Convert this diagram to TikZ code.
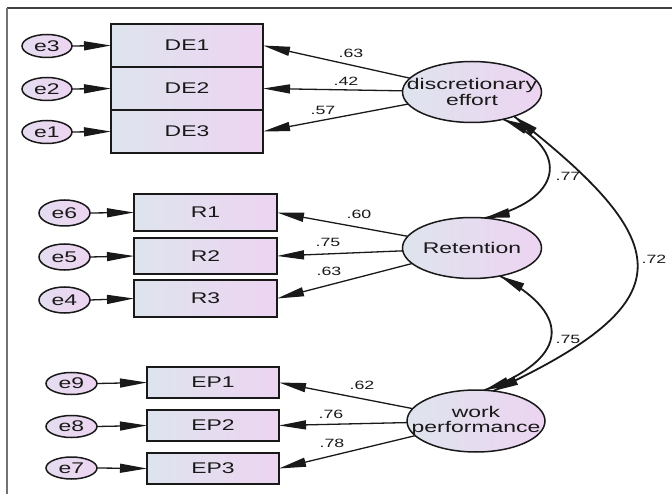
\documentclass[tikz,border=0pt]{standalone}
\usepackage{fontspec}
\newfontfamily\amos{Liberation Sans}[FakeStretch=1.48]
\usetikzlibrary{shapes.geometric,arrows.meta}
\definecolor{fillA}{RGB}{222,228,238}
\definecolor{fillB}{RGB}{237,212,241}
\definecolor{inkcol}{RGB}{25,25,25}
\tikzset{
  every node/.style={text=inkcol},
  obs/.style={rectangle, draw=inkcol, line width=1.7pt, inner sep=0pt, outer sep=0pt,
    left color=fillA, right color=fillB, font=\amos\fontsize{15.5}{16}\selectfont},
  err/.style={ellipse, draw=inkcol, line width=1.5pt, inner sep=0pt, outer sep=0pt,
    left color=fillA!55!fillB, right color=fillB, font=\amos\fontsize{15.5}{16}\selectfont},
  lat/.style={ellipse, draw=inkcol, line width=1.5pt, inner sep=0pt, outer sep=0pt,
    left color=fillA, right color=fillB},
  lattext/.style={align=center, inner sep=0pt, font=\amos\fontsize{15.5}{15.5}\selectfont},
  arr/.style={-{Triangle[length=27pt,width=9pt]}, line width=1.3pt, draw=inkcol},
  cov/.style={line width=1.8pt, draw=inkcol},
  covtip/.style={-{Triangle[length=25pt,width=9pt]}, line width=1.8pt, draw=inkcol},
  coef/.style={font=\amos\fontsize{12}{13}\selectfont, inner sep=0pt},
}
\begin{document}
\begin{tikzpicture}[x=1pt,y=1pt]
\useasboundingbox (0,0) rectangle (672,-494);
% frame
\draw[black!75, line width=1.5pt] (7,-8) -- (672,-8);
\draw[black!55, line width=1.5pt] (7,-8) -- (7,-494);

% observed variables
\node[obs, minimum width=152pt, minimum height=43pt] (DE1) at (187,-45.5) {DE1};
\node[obs, minimum width=152pt, minimum height=43pt] (DE2) at (187,-88.5) {DE2};
\node[obs, minimum width=152pt, minimum height=43pt] (DE3) at (187,-131.5) {DE3};
\node[obs, minimum width=143pt, minimum height=36.5pt] (R1) at (205.5,-212.5) {R1};
\node[obs, minimum width=143pt, minimum height=36.5pt] (R2) at (205.5,-256) {R2};
\node[obs, minimum width=143pt, minimum height=36.5pt] (R3) at (205.5,-298.5) {R3};
\node[obs, minimum width=132pt, minimum height=31pt] (EP1) at (213,-382.5) {EP1};
\node[obs, minimum width=132pt, minimum height=31pt] (EP2) at (213,-425.5) {EP2};
\node[obs, minimum width=132pt, minimum height=31pt] (EP3) at (213,-468.5) {EP3};

% error terms
\node[err, minimum width=50pt, minimum height=23pt] (e3) at (47,-46) {e3};
\node[err, minimum width=50pt, minimum height=23pt] (e2) at (47,-89) {e2};
\node[err, minimum width=50pt, minimum height=23pt] (e1) at (47,-132) {e1};
\node[err, minimum width=51pt, minimum height=26pt] (e6) at (64.5,-213) {e6};
\node[err, minimum width=51pt, minimum height=26pt] (e5) at (64.5,-257) {e5};
\node[err, minimum width=51pt, minimum height=26pt] (e4) at (64.5,-300) {e4};
\node[err, minimum width=51pt, minimum height=22pt] (e9) at (71.5,-383.5) {e9};
\node[err, minimum width=51pt, minimum height=22pt] (e8) at (71.5,-426.5) {e8};
\node[err, minimum width=51pt, minimum height=22pt] (e7) at (71.5,-468) {e7};

% latent variables
\node[lat, minimum width=139pt, minimum height=61pt,
  label={[lattext]center:discretionary\\effort}] (de) at (472,-92) {};
\node[lat, minimum width=139pt, minimum height=61pt,
  label={[lattext]center:Retention}] (ret) at (472,-248) {};
\node[lat, minimum width=138pt, minimum height=62pt,
  label={[lattext]center:work\\performance}] (wp) at (476,-421) {};

% error arrows
\foreach \e/\v in {e3/DE1,e2/DE2,e1/DE3,e6/R1,e5/R2,e4/R3,e9/EP1,e8/EP2,e7/EP3}
  \draw[arr] (\e.east) -- (\v.west);

% loadings
\foreach \v in {DE1,DE2,DE3} \draw[arr] (de) -- (\v.east);
\foreach \v in {R1,R2,R3} \draw[arr] (ret) -- (\v.east);
\foreach \v in {EP1,EP2,EP3} \draw[arr] (wp) -- (\v.east);

% covariances (curves)
\draw[cov] (de.-41) to[out=-24, in=12, looseness=1.98] (ret.67);
\draw[cov] (ret.-45) to[out=-28, in=20, looseness=1.92] (wp.75);
\draw[cov] (de.-30) to[out=-38, in=25, looseness=1.96] (wp.60);
% covariance arrowheads (along the end tangents)
\draw[covtip] ([shift={(-24:25pt)}]de.-41) -- (de.-41);
\draw[covtip] ([shift={(12:25pt)}]ret.67) -- (ret.67);
\draw[covtip] ([shift={(-28:25pt)}]ret.-45) -- (ret.-45);
\draw[covtip] ([shift={(20:25pt)}]wp.75) -- (wp.75);
\draw[covtip] ([shift={(-38:25pt)}]de.-30) -- (de.-30);
\draw[covtip] ([shift={(25:25pt)}]wp.60) -- (wp.60);

% coefficients
\node[coef] (c1) at (351,-53) {.63};
\node[coef] (c2) at (346,-81) {.42};
\node[coef] (c3) at (323,-110) {.57};
\node[coef] (c4) at (359,-214) {.60};
\node[coef] (c5) at (328,-242) {.75};
\node[coef] (c6) at (329,-271) {.63};
\node[coef] (c7) at (362,-385) {.62};
\node[coef] (c8) at (331,-414) {.76};
\node[coef] (c9) at (332,-443) {.78};
\node[coef] (c10) at (568,-176) {.77};
\node[coef] (c11) at (568,-339) {.75};
\node[coef] (c12) at (654,-259) {.72};
\end{tikzpicture}
\end{document}
